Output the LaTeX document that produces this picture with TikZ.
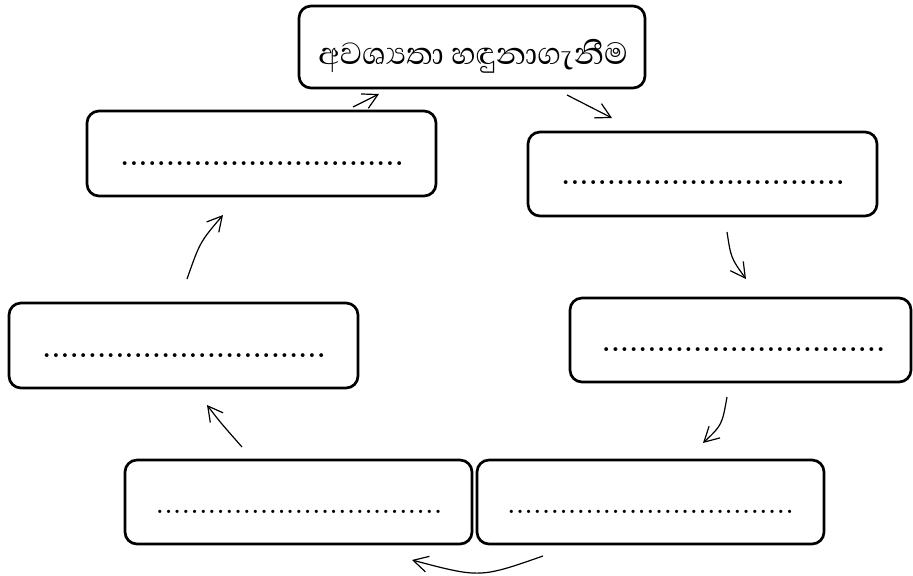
\documentclass[tikz,border=0pt]{standalone}
\usepackage{fontspec}
\newfontfamily\sinhala[Script=Sinhala]{Abhaya Libre}
\usetikzlibrary{arrows.meta}
\newcount\dotcnt
\newcommand\dotsrow[2]{\dotcnt=1 .\loop\ifnum\dotcnt<#1\relax\kern#2.\advance\dotcnt by 1 \repeat}
\begin{document}
\begin{tikzpicture}[x=0.75pt,y=-0.75pt,
  box/.style 2 args={draw, line width=2pt, rounded corners=9pt, inner sep=0pt,
    minimum width=#1*0.75pt, minimum height=#2*0.75pt},
  dotstop/.style={anchor=base, inner sep=0pt, font=\bfseries\fontsize{20}{22}\selectfont},
  dotsbot/.style={anchor=base, inner sep=0pt, font=\bfseries\fontsize{17}{19}\selectfont},
  conn/.style={line width=0.9pt, -{Straight Barb[length=11pt,width=12pt]}}]
\fill[white] (0,0) rectangle (913,575);
\useasboundingbox (0,0) rectangle (913,575);
% boxes
\node[box={346}{82}] (T) at (472,47) {};
\node[anchor=base, inner sep=0pt, font=\sinhala\fontsize{29.5}{34}\selectfont] (Tt) at (473,64) {අවශ්^^^^200dයතා හඳුනාගැනීම};
\node[box={349}{85}] (A) at (261.5,153.5) {};
\node[dotstop] (At) at (262,165) {\dotsrow{31}{0.6pt}};
\node[box={349}{84}] (B) at (702.5,174) {};
\node[dotstop] (Bt) at (703,184) {\dotsrow{31}{0.6pt}};
\node[box={341}{84}] (C) at (740.5,340) {};
\node[dotstop] (Ct) at (743.5,351) {\dotsrow{31}{0.6pt}};
\node[box={349}{85}] (D) at (183.5,345.5) {};
\node[dotstop] (Dt) at (184,357) {\dotsrow{31}{0.6pt}};
\node[box={347}{84}] (E) at (298.5,502) {};
\node[dotsbot] (Et) at (299,513) {\dotsrow{33}{1.2pt}};
\node[box={347}{84}] (F) at (650.5,502) {};
\node[dotsbot] (Ft) at (650.5,513) {\dotsrow{33}{1.2pt}};
% arrow end points
\coordinate (a1s) at (567,95);  \coordinate (a1e) at (612,118);
\coordinate (a2s) at (727,232); \coordinate (a2e) at (746,279);
\coordinate (a3s) at (727,397); \coordinate (a3e) at (703,443);
\coordinate (a4s) at (543,556); \coordinate (a4e) at (412,560);
\coordinate (a5s) at (242,447); \coordinate (a5e) at (207,405);
\coordinate (a6s) at (187,279); \coordinate (a6e) at (223,215);
\coordinate (a7s) at (353,107); \coordinate (a7e) at (379,94);
% arrows
\draw[conn] (a1s) -- (a1e);
\draw[conn] (a2s) .. controls (731,258) .. (a2e);
\draw[conn] (a3s) .. controls (722,425) .. (a3e);
\draw[conn] (a4s) .. controls (480,578) .. (a4e);
\draw[conn] (a5s) .. controls (220,422) .. (a5e);
\draw[conn] (a6s) .. controls (200,242) .. (a6e);
\draw[conn] (a7s) -- (a7e);
\end{tikzpicture}
\end{document}
